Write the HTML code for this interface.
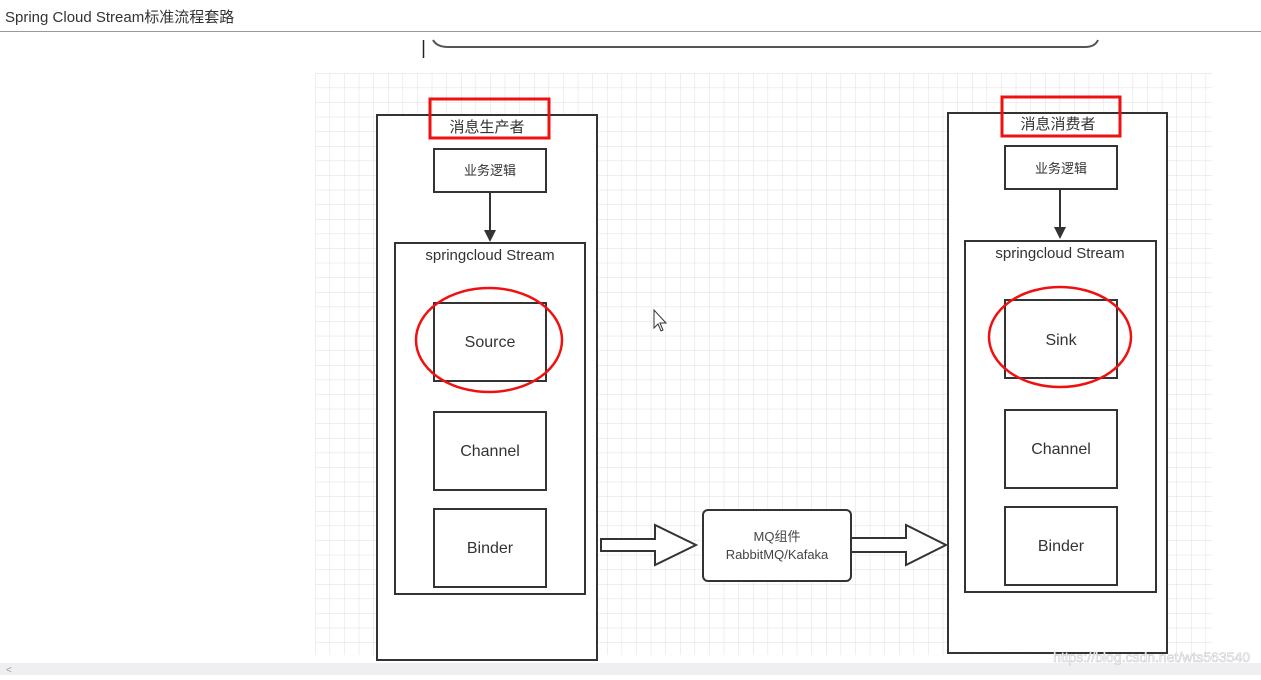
<!DOCTYPE html>
<html><head><meta charset="utf-8"><style>
body{margin:0;width:1261px;height:675px;background:#fff;overflow:hidden;font-family:"Liberation Sans","Noto Sans CJK SC",sans-serif}
</style></head><body>
<svg width="1261" height="675" viewBox="0 0 1261 675" xmlns="http://www.w3.org/2000/svg" font-family="Liberation Sans, Noto Sans CJK SC, sans-serif">
<defs>
<pattern id="g" x="315" y="73" width="14.6" height="14.6" patternUnits="userSpaceOnUse">
<path d="M0 0H14.6M0 0V14.6" stroke="#dedede" stroke-width="1" fill="none"/>
</pattern>
</defs>
<text x="5" y="22" font-size="15" fill="#333">Spring Cloud Stream标准流程套路</text>
<line x1="0" y1="31.5" x2="1261" y2="31.5" stroke="#999"/>
<line x1="423.5" y1="40" x2="423.5" y2="58" stroke="#222" stroke-width="1.5"/>
<path d="M433 40 Q437 47 448 47 H1085 Q1095 47 1098 40" stroke="#555" stroke-width="2" fill="none"/>
<rect x="315" y="73" width="897" height="582" fill="url(#g)"/>
<!-- left -->
<rect x="377" y="115" width="220" height="545" fill="#fff" stroke="#333" stroke-width="2"/>
<text x="487" y="132" font-size="15" text-anchor="middle" fill="#333">消息生产者</text>
<rect x="430" y="99" width="119" height="39" fill="none" stroke="#f01010" stroke-width="3"/>
<rect x="434" y="149" width="112" height="43" fill="#fff" stroke="#333" stroke-width="2"/>
<text x="490" y="175" font-size="13" text-anchor="middle" fill="#333">业务逻辑</text>
<line x1="490" y1="192" x2="490" y2="233" stroke="#333" stroke-width="2"/>
<path d="M484 230 L490 242 L496 230Z" fill="#333"/>
<rect x="395" y="243" width="190" height="351" fill="#fff" stroke="#333" stroke-width="2"/>
<text x="490" y="260" font-size="15" text-anchor="middle" fill="#333">springcloud Stream</text>
<rect x="434" y="303" width="112" height="78" fill="#fff" stroke="#333" stroke-width="2"/>
<text x="490" y="347" font-size="16" text-anchor="middle" fill="#333">Source</text>
<ellipse cx="489" cy="340" rx="73" ry="52" fill="none" stroke="#f01010" stroke-width="2.5"/>
<rect x="434" y="412" width="112" height="78" fill="#fff" stroke="#333" stroke-width="2"/>
<text x="490" y="456" font-size="16" text-anchor="middle" fill="#333">Channel</text>
<rect x="434" y="509" width="112" height="78" fill="#fff" stroke="#333" stroke-width="2"/>
<text x="490" y="553" font-size="16" text-anchor="middle" fill="#333">Binder</text>
<!-- right -->
<rect x="948" y="113" width="219" height="540" fill="#fff" stroke="#333" stroke-width="2"/>
<text x="1058" y="129" font-size="15" text-anchor="middle" fill="#333">消息消费者</text>
<rect x="1002" y="97" width="118" height="39" fill="none" stroke="#f01010" stroke-width="3"/>
<rect x="1005" y="146" width="112" height="43" fill="#fff" stroke="#333" stroke-width="2"/>
<text x="1061" y="173" font-size="13" text-anchor="middle" fill="#333">业务逻辑</text>
<line x1="1060" y1="189" x2="1060" y2="230" stroke="#333" stroke-width="2"/>
<path d="M1054 227 L1060 239 L1066 227Z" fill="#333"/>
<rect x="965" y="241" width="191" height="351" fill="#fff" stroke="#333" stroke-width="2"/>
<text x="1060" y="258" font-size="15" text-anchor="middle" fill="#333">springcloud Stream</text>
<rect x="1005" y="300" width="112" height="78" fill="#fff" stroke="#333" stroke-width="2"/>
<text x="1061" y="345" font-size="16" text-anchor="middle" fill="#333">Sink</text>
<ellipse cx="1060" cy="337" rx="71" ry="50" fill="none" stroke="#f01010" stroke-width="2.5"/>
<rect x="1005" y="410" width="112" height="78" fill="#fff" stroke="#333" stroke-width="2"/>
<text x="1061" y="454" font-size="16" text-anchor="middle" fill="#333">Channel</text>
<rect x="1005" y="507" width="112" height="78" fill="#fff" stroke="#333" stroke-width="2"/>
<text x="1061" y="551" font-size="16" text-anchor="middle" fill="#333">Binder</text>
<!-- MQ -->
<path d="M601 539 H655 V525 L696 545 L655 565 V551 H601Z" fill="#fff" stroke="#333" stroke-width="2"/>
<rect x="703" y="510" width="148" height="71" rx="5" fill="#fff" stroke="#333" stroke-width="2"/>
<text x="777" y="541" font-size="13" text-anchor="middle" fill="#444">MQ组件</text>
<text x="777" y="559" font-size="13" text-anchor="middle" fill="#444">RabbitMQ/Kafaka</text>
<path d="M851 538 H906 V525 L946 545 L906 565 V552 H851Z" fill="#fff" stroke="#333" stroke-width="2"/>
<!-- cursor -->
<path d="M654 310 V328 L658 324 L661 331 L663 330 L660 323 L666 323Z" fill="#fff" stroke="#333"/>
<rect x="0" y="663" width="1261" height="12" fill="#efeff2"/>
<text x="6" y="673" font-size="10" fill="#999">&lt;</text>
<text x="1250" y="662" font-size="14" text-anchor="end" fill="#fff" stroke="#ccc" stroke-width="0.6">https://blog.csdn.net/wts563540</text>
</svg>
</body></html>
